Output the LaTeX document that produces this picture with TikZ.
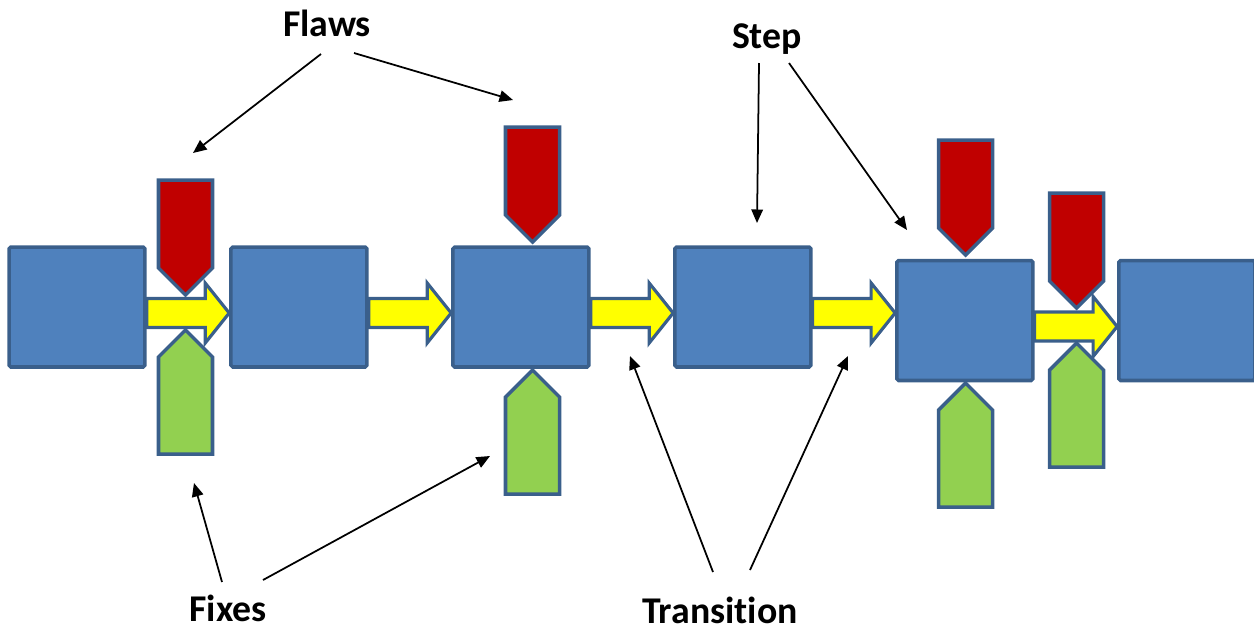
\documentclass[tikz,border=0pt]{standalone}
\usepackage{fontspec}
\setmainfont[Ligatures=NoCommon]{Carlito}
\usepackage{tikz}
\usetikzlibrary{arrows.meta,positioning,calc}
\definecolor{stepblue}{HTML}{4F81BD}
\definecolor{edgeblue}{HTML}{3A5F8B}
\definecolor{flawred}{HTML}{C00000}
\definecolor{fixgreen}{HTML}{92D050}
\definecolor{flowyellow}{HTML}{FFFF00}

\begin{document}
\begin{tikzpicture}[x=0.02cm, y=-0.02cm,
    stepbox/.style={draw=edgeblue, fill=stepblue, line width=2pt,
                    rounded corners=1pt, inner sep=0pt,
                    minimum width=2.72cm, minimum height=2.40cm},
    flow/.style={draw=edgeblue, fill=flowyellow, line width=1.8pt},
    flawtag/.style={draw=edgeblue, fill=flawred, line width=2pt},
    fixtag/.style={draw=edgeblue, fill=fixgreen, line width=2pt},
    flaw/.pic={\filldraw[flawtag] (0,0) -- (-27,-27) -- (-27,-115)
                 -- (27,-115) -- (27,-27) -- cycle;},
    fix/.pic={\filldraw[fixtag] (0,0) -- (-27,27) -- (-27,124)
                 -- (27,124) -- (27,27) -- cycle;},
    lbl/.style={font=\fontsize{21.5}{25}\selectfont\bfseries, inner sep=0pt},
    ptr/.style={-{Triangle[length=0.27cm, width=0.23cm]}, line width=1pt},
    node distance=1.65cm
  ]
    \useasboundingbox (0,0) rectangle (1254,630);
    \clip (0,0) rectangle (1254,630);

    % process steps
    \node[stepbox] (b1) at (77,307) {};
    \node[stepbox, right=of b1] (b2) {};
    \node[stepbox, right=of b2] (b3) {};
    \node[stepbox, right=of b3] (b4) {};
    \node[stepbox, right=of b4, yshift=-0.27cm] (b5) {};
    \node[stepbox, right=of b5] (b6) {};

    % transitions
    \foreach \a/\b in {b1/b2, b2/b3, b3/b4, b4/b5, b5/b6}
      \draw[flow] let \p1=($(\a.east)+(0,6)$), \p2=(\b.west) in
        (\x1,\y1+0.29cm) -- (\x2-0.48cm,\y1+0.29cm) -- (\x2-0.48cm,\y1+0.6cm)
        -- (\x2,\y1) -- (\x2-0.48cm,\y1-0.6cm) -- (\x2-0.48cm,\y1-0.29cm)
        -- (\x1,\y1-0.29cm) -- cycle;

    % flaws and fixes
    \pic (f1) at (185.5,295) {flaw};
    \pic (f2) at (532.5,242) {flaw};
    \pic (f3) at (965.5,255) {flaw};
    \pic (f4) at (1076.5,308) {flaw};
    \pic (x1) at (185.5,330) {fix};
    \pic (x2) at (532.5,370) {fix};
    \pic (x3) at (965.5,383) {fix};
    \pic (x4) at (1076.5,343) {fix};

    % labels
    \node[lbl] (flaws) at (327,23) {Flaws};
    \node[lbl] (stepl) at (767,39) {Step};
    \node[lbl] (fixes) at (228,608) {Fixes};
    \node[lbl] (trans) at (720,610) {Transition};

    \coordinate (flA) at (321,54);  \coordinate (flAe) at (193,153);
    \coordinate (flB) at (354,53);  \coordinate (flBe) at (513,100);
    \coordinate (stA) at (759,63);  \coordinate (stAe) at (757,223);
    \coordinate (stB) at (789,63);  \coordinate (stBe) at (907,230);
    \coordinate (fxA) at (222,582); \coordinate (fxAe) at (194,483);
    \coordinate (fxB) at (263,580); \coordinate (fxBe) at (490,456);
    \coordinate (trA) at (713,572); \coordinate (trAe) at (630,356);
    \coordinate (trB) at (750,570); \coordinate (trBe) at (848,356);

    \draw[ptr] (flA)--(flAe); \draw[ptr] (flB)--(flBe);
    \draw[ptr] (stA)--(stAe); \draw[ptr] (stB)--(stBe);
    \draw[ptr] (fxA)--(fxAe); \draw[ptr] (fxB)--(fxBe);
    \draw[ptr] (trA)--(trAe); \draw[ptr] (trB)--(trBe);
  \end{tikzpicture}
\end{document}
